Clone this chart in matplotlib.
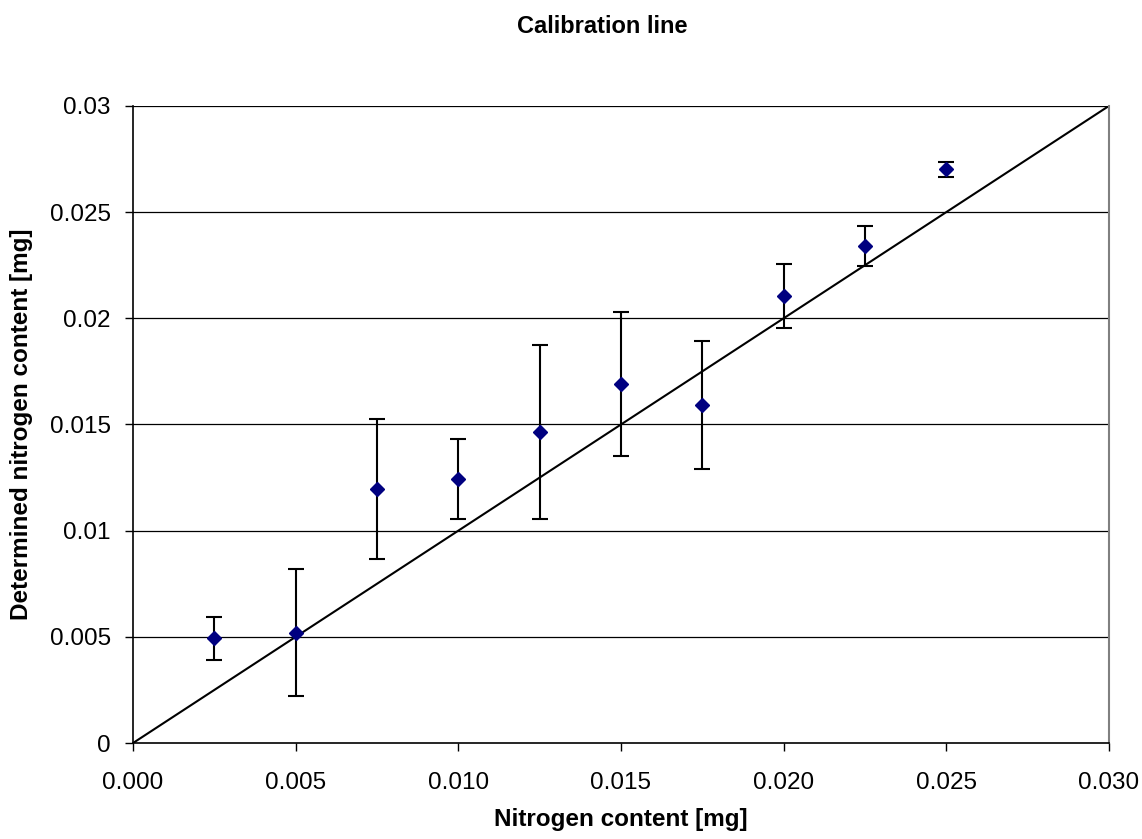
import numpy as np
import matplotlib.pyplot as plt
from matplotlib.ticker import FixedLocator

plt.rcParams['font.family'] = ['Liberation Sans', 'DejaVu Sans']

# Daten
nitrogen = [0.0025, 0.0050, 0.0075, 0.0100, 0.0125, 0.0150, 0.0175, 0.0200, 0.0225, 0.0250]
determined = [0.00493, 0.0052, 0.01195, 0.01243, 0.01466, 0.0169, 0.01592, 0.02104, 0.02342, 0.02702]
errors = [0.0010, 0.0030, 0.0033, 0.0019, 0.0041, 0.0034, 0.0030, 0.0015, 0.00095, 0.00035]
line_x = [0.0, 0.030]
line_y = [0.0, 0.030]
x_ticks = [0.000, 0.005, 0.010, 0.015, 0.020, 0.025, 0.030]
y_ticks = [0, 0.005, 0.01, 0.015, 0.02, 0.025, 0.03]
y_labels = ['0', '0.005', '0.01', '0.015', '0.02', '0.025', '0.03']

fig = plt.figure(figsize=(11.42, 8.39), dpi=100)
ax = fig.add_axes([0.1165, 0.1144, 0.8545, 0.7593])

for y in y_ticks[1:]:
    ax.axhline(y, color='black', lw=0.9, zorder=1)

ax.plot(line_x, line_y, color='black', lw=1.5, zorder=2)
ax.errorbar(nitrogen, determined, yerr=errors, fmt='D', color='#000080',
            ms=7, ecolor='black', elinewidth=1.5, capsize=6, capthick=1.5, zorder=3)

ax.set_xlim(0, 0.03)
ax.set_ylim(0, 0.03)
ax.xaxis.set_major_locator(FixedLocator(x_ticks))
ax.set_xticklabels(['%.3f' % v for v in x_ticks])
ax.yaxis.set_major_locator(FixedLocator(y_ticks))
ax.set_yticklabels(y_labels)
ax.tick_params(direction='out', length=6, width=1, labelsize=17.5, pad=10)
ax.tick_params(axis='x', pad=15)

ax.spines['top'].set_visible(False)
ax.spines['right'].set_color('#808080')
ax.spines['right'].set_linewidth(1.5)
ax.spines['left'].set_linewidth(1.2)
ax.spines['bottom'].set_linewidth(1.2)

ax.set_xlabel('Nitrogen content [mg]', fontsize=17.5, fontweight='bold', labelpad=10)
ax.set_ylabel('Determined nitrogen content [mg]', fontsize=17.5, fontweight='bold', labelpad=12)
fig.text(0.527, 0.968, 'Calibration line', ha='center', va='center', fontsize=17, fontweight='bold')

plt.savefig('out.png', dpi=100)
